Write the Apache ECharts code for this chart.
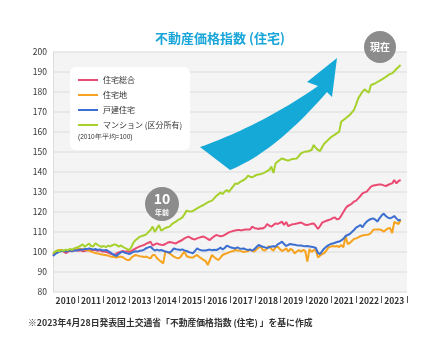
<!DOCTYPE html>
<html><head><meta charset="utf-8">
<script src="https://cdn.jsdelivr.net/npm/echarts@6/dist/echarts.min.js"></script>
<style>html,body{margin:0;padding:0;background:#fff}#c{width:440px;height:360px}</style>
</head><body><div id="c"></div>
<script>
const years = ['2010','2011','2012','2013','2014','2015','2016','2017','2018','2019','2020','2021','2022','2023'];
const seriesNames = ['住宅総合','住宅地','戸建住宅','マンション (区分所有)'];
const yTicks = [80,90,100,110,120,130,140,150,160,170,180,190,200];

const sogo = [
 98.5, 99.3,100.2,100.8,101.0,100.2, 99.5,100.0,100.6,100.3,100.8,101.0,
 100.6,100.9,100.4,100.5,100.9,101.2,100.7,101.0,101.0,100.6,100.9,100.3,
 100.2,100.0, 99.7, 99.2, 98.8, 98.5, 99.3, 99.8,100.2,100.5,100.0,100.4,
 100.0,100.6,101.2,101.8,102.3,102.8,103.2,103.5,104.2,104.6,105.2,103.2,
 103.8,104.3,103.9,103.6,103.5,104.0,104.6,105.0,104.8,104.5,104.3,105.0,
 105.5,106.0,106.8,107.3,107.7,107.0,106.5,106.3,106.8,107.2,107.5,107.7,
 107.2,106.5,106.0,107.0,107.8,108.5,108.2,107.9,108.0,108.6,109.2,109.8,
 110.2,110.5,110.8,111.0,111.0,110.8,111.1,111.3,111.2,111.3,112.7,112.0,
 111.8,111.5,111.9,111.8,112.4,114.0,113.2,112.7,113.5,114.3,114.0,114.6,
 115.2,113.5,115.0,112.9,113.4,113.9,114.0,114.2,114.5,114.7,114.2,113.6,
 113.5,113.8,114.1,114.3,113.0,111.5,113.0,114.7,115.2,115.6,116.0,116.3,
 117.0,117.3,116.3,116.6,118.2,120.0,121.8,123.0,123.5,124.2,125.2,125.7,
 126.8,128.0,129.3,129.8,130.2,131.4,132.7,133.2,133.4,133.6,133.8,133.7,
 133.3,133.0,133.5,134.0,134.3,136.0,134.3,135.5,136.0
];
const jutakuchi = [
 99.0, 99.8,100.5,101.0,100.8,100.5,100.7,100.9,101.2,101.0,101.3,101.3,
 101.5,101.6,101.4,101.2,101.0,100.6,100.2, 99.8, 99.5, 99.3, 99.0, 98.8,
 98.6, 98.4, 98.2, 97.8, 97.6, 97.5, 97.3, 97.5, 97.7, 97.4, 96.6, 96.0,
 96.0, 97.2, 98.0, 98.5, 98.2, 97.9, 97.7, 97.5, 97.7, 97.2, 96.8, 98.5,
 98.5, 97.0, 96.0, 95.2, 94.3,100.2, 99.8, 99.3, 98.5, 97.7, 97.2, 96.8,
 97.3, 98.8,100.2, 98.0, 97.5, 97.3, 97.2, 98.0, 98.5, 97.5, 96.8, 96.0,
 95.5, 93.5, 96.0, 98.5, 97.5, 96.6, 96.0, 97.2, 98.5, 99.0, 99.3, 99.8,
 100.2,100.5,101.0,100.8,100.7,100.3,100.0,100.2,100.4,101.2,100.5,100.2,
 101.3,102.2,102.7,101.0,100.7,101.8,103.0,101.5,100.7,102.3,102.7,101.5,
 100.5,101.0,101.8,100.2,101.5,101.0, 99.3,100.2,101.0,100.2,101.0,100.5,
 95.2,101.5,100.0,101.0,100.8, 97.3, 98.2, 99.0, 99.5,100.8,102.3,102.7,
 103.0,102.8,103.0,102.5,103.5,102.3,108.0,104.0,104.5,105.5,106.5,106.8,
 107.3,107.9,108.3,108.5,108.6,108.8,109.5,111.0,111.3,111.2,111.3,111.0,
 110.2,111.0,111.8,112.0,109.5,115.0,114.5,114.0,116.0
];
const kodate = [
 98.0, 99.0, 99.6,100.2,100.4,100.6,100.2,100.5,100.8,100.4,100.9,100.7,
 101.0,101.3,101.1,101.6,101.4,101.8,101.5,101.2,101.5,101.0,101.3,101.0,
 100.8,101.0,100.5, 99.8, 99.0, 98.5, 98.0, 99.0, 99.8,100.2, 99.6, 99.3,
 99.0, 99.5,100.1,100.4,100.2,100.6,100.7,101.2,101.9,102.3,102.7,101.6,
 100.7,101.2,100.8,101.0,100.6,100.2,100.0, 99.7,100.5,101.8,101.4,101.2,
 101.0,101.3,100.8,100.5,100.0, 99.7, 99.3,100.6,101.8,101.2,100.9,100.7,
 100.8,101.0,101.2,100.9,101.1,101.0,101.4,102.2,101.3,102.0,103.2,102.7,
 102.2,102.0,101.8,102.3,101.8,101.6,101.8,101.3,101.0,101.2,100.7,101.4,
 102.5,103.5,103.0,102.6,102.3,102.0,102.4,102.7,102.9,102.7,103.8,104.4,
 105.2,104.0,103.0,103.6,104.0,103.8,103.6,103.4,103.3,103.2,103.0,102.9,
 103.0,102.8,102.6,102.4,102.0, 99.5, 99.0,100.5,101.8,102.7,103.4,104.0,
 104.2,104.6,105.0,105.2,105.8,106.6,108.0,108.5,109.0,110.0,111.0,112.2,
 112.8,113.5,112.4,114.0,115.2,116.0,116.5,116.8,116.2,115.2,116.8,118.2,
 119.2,118.0,117.2,116.8,117.3,118.0,116.8,115.7,116.3
];
const mansion = [
 99.5,100.2,100.8,100.4,101.0,100.6,101.2,100.9,101.5,101.1,101.8,102.2,
 102.5,103.2,103.8,102.6,103.5,104.2,103.0,102.8,104.4,103.6,103.0,102.6,
 103.0,102.4,103.2,102.8,103.4,103.8,103.5,102.7,103.3,102.6,102.0,101.4,
 101.0,102.5,104.8,106.0,106.8,107.7,108.0,108.4,108.8,110.0,111.0,112.7,
 110.0,111.8,113.5,110.7,111.3,112.0,112.4,112.7,113.8,114.6,115.2,116.0,
 116.6,117.3,118.8,120.7,120.4,120.2,120.5,121.2,121.8,122.4,123.0,123.5,
 124.2,124.8,125.3,125.7,126.8,128.0,128.8,129.8,129.0,130.2,131.0,130.0,
 131.5,132.8,134.3,134.0,134.8,135.5,136.0,136.8,138.2,137.6,137.3,138.0,
 138.5,138.8,139.0,139.3,139.8,140.5,141.0,142.7,139.5,144.3,145.2,146.0,
 146.8,146.4,146.0,145.7,146.2,146.5,146.6,146.8,148.0,149.3,149.8,150.2,
 150.2,150.6,151.0,153.5,152.0,151.0,150.5,152.5,154.3,155.2,156.3,157.3,
 158.0,158.7,159.4,160.2,165.2,166.0,166.8,167.7,168.5,169.8,171.0,173.8,
 176.8,178.5,180.2,181.3,180.5,179.7,183.5,183.9,184.3,185.0,185.6,186.2,
 186.8,187.6,188.3,189.0,189.3,190.4,191.5,192.5,193.5
];

const months = [];
years.forEach(y => { for (let m = 1; m <= 12; m++) months.push(y + '-' + m); });

// decorative curved arrow outline (quadratic curves sampled into a polygon)
function quad(p0, c, p1, n) {
  const pts = [];
  for (let k = 0; k <= n; k++) {
    const t = k / n, a = (1 - t) * (1 - t), b = 2 * (1 - t) * t, d = t * t;
    pts.push([a * p0[0] + b * c[0] + d * p1[0], a * p0[1] + b * c[1] + d * p1[1]]);
  }
  return pts;
}
const arrowPts = [].concat(
  quad([200, 147], [262, 125], [318, 86], 24),
  [[307, 82], [337, 58], [332, 97]],
  quad([327, 92], [275, 152], [230, 170], 24)
);

const colors = ['#ea4b72', '#f6a31f', '#3c6fd0', '#a6d12d'];
const FONT = '"Noto Sans CJK JP", "Noto Sans", sans-serif';
const chart = echarts.init(document.getElementById('c'), null, {renderer: 'canvas'});

const seriesData = [sogo, jutakuchi, kodate, mansion];
chart.setOption({
  animation: false,
  textStyle: {fontFamily: FONT},
  title: {
    text: '不動産価格指数 (住宅)', left: 'center', top: 27,
    textStyle: {fontSize: 13, fontWeight: 'bold', color: '#1aa6d8', fontFamily: FONT}
  },
  grid: {left: 53, right: 33, top: 52, bottom: 68, show: true, backgroundColor: '#f4f4f4', borderWidth: 0},
  legend: {
    orient: 'vertical', left: 78, top: 74, padding: 0, itemGap: 3,
    itemWidth: 20, itemHeight: 2, icon: 'rect', z: 6,
    data: seriesNames,
    textStyle: {fontSize: 8, lineHeight: 12, color: '#333', fontFamily: FONT}
  },
  xAxis: [{
    type: 'category', data: months, boundaryGap: false,
    axisLine: {show: false}, axisTick: {show: false}, axisLabel: {show: false}, splitLine: {show: false}
  }, {
    type: 'category', data: years, boundaryGap: true, position: 'bottom', offset: 4,
    axisLine: {show: false},
    axisTick: {show: true, length: 7, lineStyle: {color: '#555', width: 1}, interval: function (idx) { return idx !== 0; }},
    axisLabel: {fontSize: 8.5, color: '#333', margin: 1, fontWeight: 'bold', interval: 0, fontFamily: FONT}
  }],
  yAxis: {
    type: 'value', min: yTicks[0], max: yTicks[yTicks.length - 1], interval: 10,
    axisLine: {show: true, lineStyle: {color: '#dcdcdc', width: 1}},
    axisTick: {show: false},
    axisLabel: {fontSize: 8.5, color: '#333', margin: 6, fontFamily: FONT},
    splitLine: {show: true, lineStyle: {color: '#e4e4e4', width: 1.5}}
  },
  series: seriesNames.map((n, k) => ({
    name: n, type: 'line', data: seriesData[k], showSymbol: false, symbol: 'none',
    xAxisIndex: 0, color: colors[k], lineStyle: {width: 2, color: colors[k]}
  })),
  graphic: [
    {type: 'rect', z: 3, shape: {x: 70, y: 67, width: 120, height: 83, r: 6}, style: {fill: '#ffffff'}},
    {type: 'text', z: 6, x: 78, y: 134, style: {text: '(2010年平均=100)', fontSize: 6.5, fill: '#333', font: '6.5px ' + FONT}},
    {type: 'polygon', z: 3, shape: {points: arrowPts}, style: {fill: '#15a9d8'}},
    {type: 'circle', z: 7, shape: {cx: 380, cy: 47, r: 16}, style: {fill: '#8c8c8c'}},
    {type: 'text', z: 8, x: 380, y: 47, style: {text: '現在', fill: '#fff', font: 'bold 10px ' + FONT, align: 'center', verticalAlign: 'middle'}},
    {type: 'circle', z: 7, shape: {cx: 162, cy: 204, r: 17}, style: {fill: '#8c8c8c'}},
    {type: 'text', z: 8, x: 162, y: 199, style: {text: '10', fill: '#fff', font: 'bold 14px ' + FONT, align: 'center', verticalAlign: 'middle'}},
    {type: 'text', z: 8, x: 162, y: 212, style: {text: '年前', fill: '#fff', font: 'bold 7px ' + FONT, align: 'center', verticalAlign: 'middle'}},
    {type: 'text', z: 8, x: 28, y: 323, style: {text: '※2023年4月28日発表国土交通省「不動産価格指数 (住宅) 」を基に作成', fill: '#333', font: 'bold 8.8px ' + FONT, verticalAlign: 'middle'}}
  ]
});
</script></body></html>
